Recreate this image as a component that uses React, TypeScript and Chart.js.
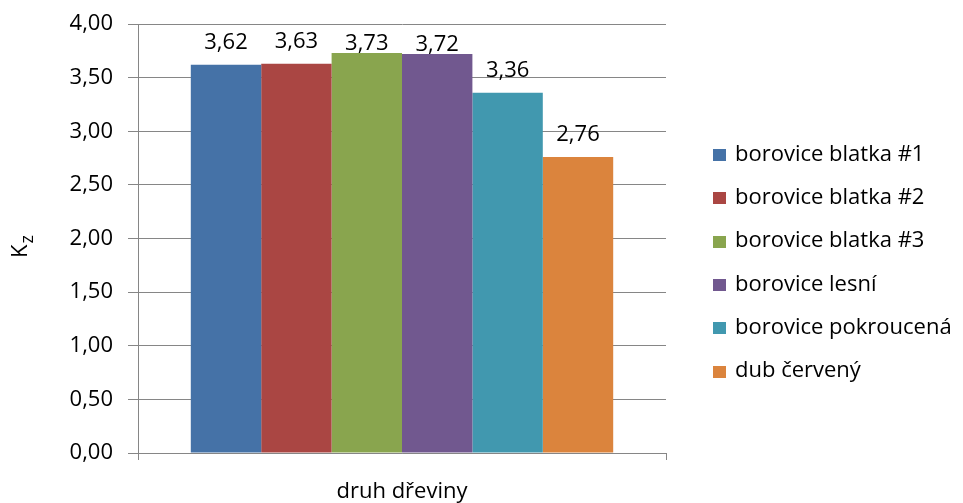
import React, { useEffect, useRef } from "react";
import { Chart, registerables } from "chart.js";

Chart.register(...registerables);

const categories: string[] = [""];
const seriesNames: string[] = [
  "borovice blatka #1",
  "borovice blatka #2",
  "borovice blatka #3",
  "borovice lesní",
  "borovice pokroucená",
  "dub červený",
];
const seriesValues: number[] = [3.62, 3.63, 3.73, 3.72, 3.36, 2.76];
const seriesColors: string[] = ["#4572A7", "#AA4643", "#89A54E", "#71588F", "#4198AF", "#DB843D"];
const yTicks: number[] = [0, 0.5, 1, 1.5, 2, 2.5, 3, 3.5, 4];
const xTitle = "druh dřeviny";
const yTitleMain = "K";
const yTitleSub = "z";

const FONT = "'Open Sans', sans-serif";
const GRID = "#868686";

const fmt = (v: number) => v.toFixed(2).replace(".", ",");

const dataLabelPlugin = {
  id: "dataLabels",
  afterDatasetsDraw(chart: any) {
    const ctx = chart.ctx;
    const top = chart.chartArea.top;
    ctx.save();
    ctx.font = `22px ${FONT}`;
    ctx.fillStyle = "#000";
    ctx.textAlign = "center";
    ctx.textBaseline = "alphabetic";
    chart.data.datasets.forEach((ds: any, i: number) => {
      const meta = chart.getDatasetMeta(i);
      meta.data.forEach((bar: any, j: number) => {
        // outside end; if it would leave the plot area, pull it down to the bar top
        let y = bar.y - 16;
        if (y - 23 < top) y = bar.y - 3;
        ctx.fillText(fmt(ds.data[j]), bar.x, y);
      });
    });
    ctx.restore();
  },
};

const customLegendPlugin = {
  id: "customLegend",
  afterDraw(chart: any) {
    const ctx = chart.ctx;
    ctx.save();
    ctx.font = `22px ${FONT}`;
    ctx.textAlign = "left";
    ctx.textBaseline = "middle";
    chart.data.datasets.forEach((ds: any, i: number) => {
      const cy = 155 + i * 43.3;
      ctx.fillStyle = ds.backgroundColor;
      ctx.fillRect(713, Math.round(cy - 6), 13, 12);
      ctx.fillStyle = "#000";
      ctx.fillText(ds.label, 735, cy - 0.5);
    });
    ctx.restore();
  },
};

const yTitlePlugin = {
  id: "yTitle",
  afterDraw(chart: any) {
    const ctx = chart.ctx;
    ctx.save();
    ctx.translate(27, 258);
    ctx.rotate(-Math.PI / 2);
    ctx.fillStyle = "#000";
    ctx.textBaseline = "alphabetic";
    ctx.textAlign = "left";
    ctx.font = `22px ${FONT}`;
    ctx.fillText(yTitleMain, 0, 0);
    const w = ctx.measureText(yTitleMain).width;
    ctx.font = `18px ${FONT}`;
    ctx.fillText(yTitleSub, w + 1, 6);
    ctx.restore();
  },
};

export default function App() {
  const ref = useRef<HTMLCanvasElement | null>(null);

  useEffect(() => {
    document.body.style.margin = "0";
    if (!ref.current) return;
    const chart = new Chart(ref.current, {
      type: "bar",
      data: {
        labels: categories,
        datasets: seriesNames.map((name, i) => ({
          label: name,
          data: [seriesValues[i]],
          backgroundColor: seriesColors[i],
          borderWidth: 0,
          categoryPercentage: 0.8,
          barPercentage: 1.0,
        })),
      },
      options: {
        animation: false,
        responsive: false,
        devicePixelRatio: 1,
        layout: { padding: { top: 24, right: 297, left: 0, bottom: 0 } },
        plugins: {
          legend: { display: false },
          tooltip: { enabled: false },
        },
        scales: {
          x: {
            offset: true,
            grid: {
              display: true,
              drawOnChartArea: false,
              drawTicks: true,
              tickLength: 7,
              color: GRID,
              offset: true,
            },
            border: { display: true, color: GRID },
            ticks: { display: false },
            title: {
              display: true,
              text: xTitle,
              color: "#000",
              font: { family: FONT, size: 22, lineHeight: 1 },
              padding: { top: 0, bottom: 0 },
            },
            afterFit: (scale: any) => {
              scale.height = 50;
            },
          },
          y: {
            min: 0,
            max: 4,
            afterBuildTicks: (scale: any) => {
              scale.ticks = yTicks.map((v) => ({ value: v }));
            },
            ticks: {
              color: "#000",
              font: { family: FONT, size: 22 },
              padding: 15,
              callback: (v: any) => fmt(Number(v)),
            },
            grid: { color: GRID, tickLength: 10, drawTicks: true },
            border: { display: true, color: GRID },
            afterFit: (scale: any) => {
              scale.width = 138;
              scale.paddingTop = 0;
              scale.paddingBottom = 0;
            },
          },
        },
      },
      plugins: [dataLabelPlugin, customLegendPlugin, yTitlePlugin],
    });
    return () => chart.destroy();
  }, []);

  return (
    <div style={{ width: 963, height: 503 }}>
      <canvas ref={ref} width={963} height={503} style={{ width: 963, height: 503 }} />
    </div>
  );
}
